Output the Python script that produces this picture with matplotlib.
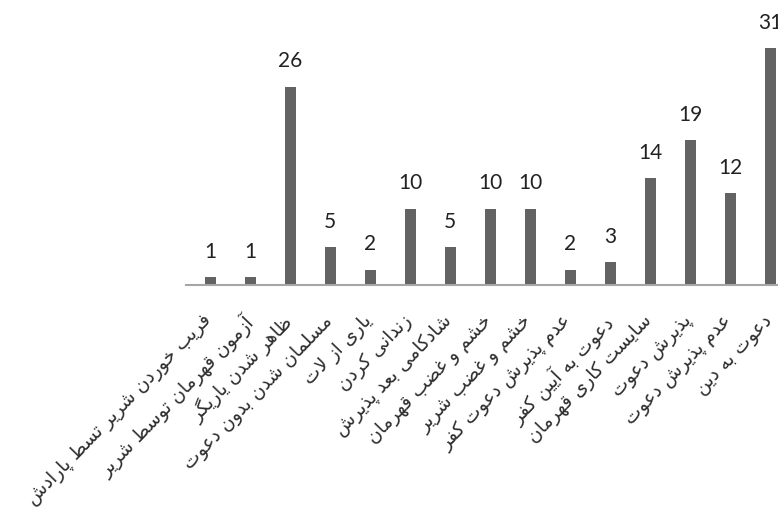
import matplotlib
matplotlib.use("Agg")
import matplotlib.pyplot as plt
from matplotlib.transforms import ScaledTranslation

labels = [
    "فریب خوردن شریر تسط پارادش",
    "آزمون قهرمان توسط شریر",
    "ظاهر شدن یاریگر",
    "مسلمان شدن بدون دعوت",
    "یاری از لات",
    "زندانی کردن",
    "شادکامی بعد پذیرش",
    "خشم و غضب قهرمان",
    "خشم و غضب شریر",
    "عدم پذیرش دعوت کفر",
    "دعوت به آیین کفر",
    "سایست کاری قهرمان",
    "پذیرش دعوت",
    "عدم پذیرش دعوت",
    "دعوت به دین",
]
values = [1, 1, 26, 5, 2, 10, 5, 10, 10, 2, 3, 14, 19, 12, 31]


def dual(start):
    return (start, start + 1, start + 2, start + 3)


# presentation forms: (isolated, final, initial, medial)
FORMS = {
    "ا": (0xFE8D, 0xFE8E), "آ": (0xFE81, 0xFE82),
    "د": (0xFEA9, 0xFEAA), "ذ": (0xFEAB, 0xFEAC),
    "ر": (0xFEAD, 0xFEAE), "ز": (0xFEAF, 0xFEB0),
    "ژ": (0xFB8A, 0xFB8B), "و": (0xFEED, 0xFEEE),
    "ب": dual(0xFE8F), "پ": dual(0xFB56), "ت": dual(0xFE95),
    "خ": dual(0xFEA5), "س": dual(0xFEB1), "ش": dual(0xFEB5),
    "ض": dual(0xFEBD), "ط": dual(0xFEC1), "ظ": dual(0xFEC5),
    "ع": dual(0xFEC9), "غ": dual(0xFECD), "ف": dual(0xFED1),
    "ق": dual(0xFED5), "ک": dual(0xFB8E), "گ": dual(0xFB92),
    "ل": dual(0xFEDD), "م": dual(0xFEE1), "ن": dual(0xFEE5),
    "ه": dual(0xFEE9), "ی": dual(0xFBFC),
}


def joins_next(c):
    return c in FORMS and len(FORMS[c]) == 4


def shape(text):
    # minimal arabic shaping + reversal, matplotlib has no bidi
    text = text.replace("ي", "ی").replace("ك", "ک")
    out = []
    i = 0
    n = len(text)
    while i < n:
        c = text[i]
        if c not in FORMS:
            out.append(c)
            i += 1
            continue
        prev = text[i - 1] if i > 0 else ""
        link_prev = joins_next(prev)
        if c == "ل" and i + 1 < n and text[i + 1] in "اآ":
            lig = (0xFEFB, 0xFEFC) if text[i + 1] == "ا" else (0xFEF5, 0xFEF6)
            out.append(chr(lig[1] if link_prev else lig[0]))
            i += 2
            continue
        nxt = text[i + 1] if i + 1 < n else ""
        link_next = joins_next(c) and nxt in FORMS
        f = FORMS[c]
        if link_prev and link_next:
            g = f[3]
        elif link_prev:
            g = f[1]
        elif link_next:
            g = f[2]
        else:
            g = f[0]
        out.append(chr(g))
        i += 1
    return "".join(reversed(out))


W, H = 778, 532
fig = plt.figure(figsize=(W / 100, H / 100), dpi=100)
ax = fig.add_axes([186 / W, (H - 285) / H, 604 / W, 259.4 / H])

x = range(len(values))
ax.bar(x, values, width=0.275, color="#636363", zorder=2)

for xi, v in zip(x, values):
    ax.annotate(str(v), (xi, v), xytext=(0, 11), textcoords="offset points",
                ha="center", va="bottom", fontsize=15, color="#222222",
                family=["Lato", "DejaVu Sans"])

ax.set_xlim(-0.6, 14.5)
ax.set_ylim(0, 34)
for s in ["top", "left", "right"]:
    ax.spines[s].set_visible(False)
ax.spines["bottom"].set_color("#a6a6a6")
ax.spines["bottom"].set_linewidth(1.5)
ax.set_yticks([])
ax.set_xticks(list(x))
ax.set_xticklabels([shape(l) for l in labels], rotation=46, ha="right",
                   va="top", rotation_mode="anchor", fontsize=13.5,
                   color="#2e2e2e", family="DejaVu Sans")
ax.tick_params(axis="x", length=0, pad=19)

# nudge labels a little to the left, like the original
shift = ScaledTranslation(-8 / 100, 0, fig.dpi_scale_trans)
for t in ax.get_xticklabels():
    t.set_transform(t.get_transform() + shift)

fig.savefig("out.png", dpi=100)
